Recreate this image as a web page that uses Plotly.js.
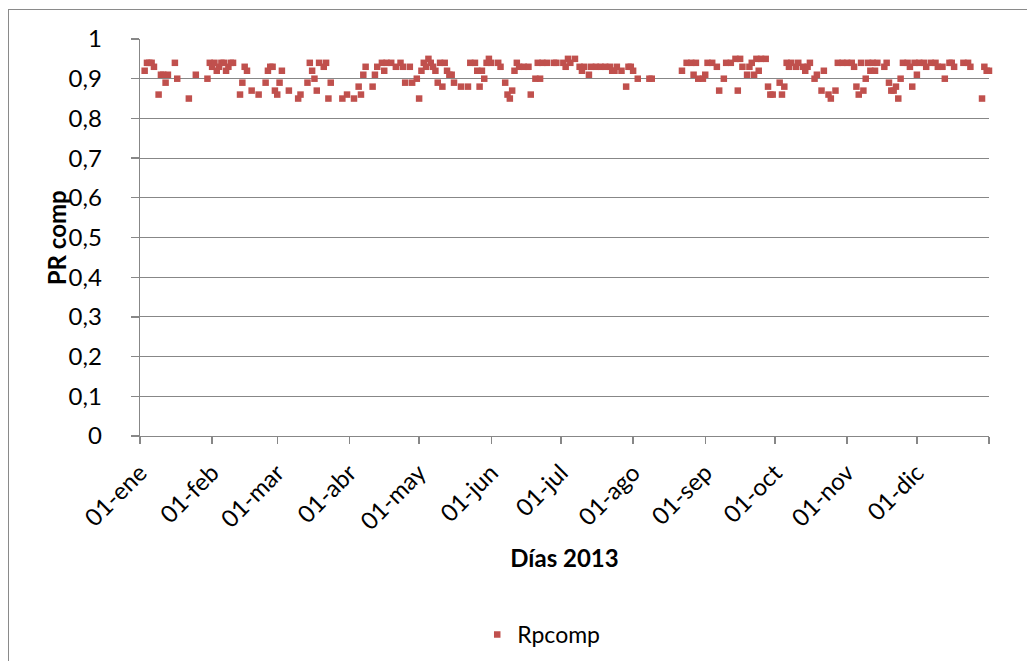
<!DOCTYPE html>
<html><head><meta charset="utf-8">
<script src="https://cdn.plot.ly/plotly-3.0.1.min.js"></script>
<style>
html,body{margin:0;padding:0;background:#fff;}
#wrap{position:relative;width:1027px;height:661px;overflow:hidden;}
#chart{position:absolute;left:0;top:0;width:1027px;height:661px;}
#frame{position:absolute;left:8px;top:9px;width:1060px;height:700px;border:1px solid #8a8a8a;pointer-events:none;}
</style></head>
<body><div id="wrap"><div id="chart"></div><div id="frame"></div></div>
<script>
// día del año (0 = 01-ene-2013)
const dias = [2,3,4,5,6,8,9,10,11,12,15,16,21,24,29,30,31,32,33,34,35,36,37,38,39,40,43,44,45,46,48,51,54,55,56,57,58,59,60,61,64,68,69,72,73,74,75,76,77,79,80,81,82,87,89,92,94,95,96,97,100,101,102,104,105,106,108,110,112,113,114,116,117,119,120,121,122,123,124,125,126,127,128,129,130,131,132,133,134,135,138,141,142,144,145,146,147,148,149,150,151,154,155,157,158,159,160,161,162,163,165,167,168,170,171,172,173,175,178,179,182,183,184,185,187,189,190,191,193,194,196,198,200,202,203,204,205,207,209,210,211,212,214,219,220,233,235,237,238,239,240,242,243,244,246,248,249,251,252,254,256,257,258,259,261,262,263,264,265,266,267,269,270,271,272,275,276,277,278,279,280,282,283,285,286,287,288,290,291,293,294,296,297,299,300,302,304,306,307,308,309,310,311,312,313,314,315,316,317,320,321,322,323,324,325,326,327,328,330,331,332,333,334,335,337,338,340,342,343,345,346,348,349,350,354,356,357,362,363,364,365];
const rpcomp = [0.92,0.94,0.94,0.94,0.93,0.86,0.91,0.91,0.89,0.91,0.94,0.90,0.85,0.91,0.90,0.94,0.93,0.94,0.92,0.93,0.94,0.94,0.92,0.93,0.94,0.94,0.86,0.89,0.93,0.92,0.87,0.86,0.89,0.92,0.93,0.93,0.87,0.86,0.89,0.92,0.87,0.85,0.86,0.89,0.94,0.92,0.90,0.87,0.94,0.93,0.94,0.85,0.89,0.85,0.86,0.85,0.88,0.86,0.91,0.93,0.88,0.91,0.93,0.94,0.92,0.94,0.94,0.93,0.94,0.93,0.89,0.93,0.89,0.90,0.85,0.92,0.94,0.93,0.95,0.94,0.93,0.92,0.89,0.94,0.88,0.94,0.92,0.91,0.91,0.89,0.88,0.88,0.94,0.94,0.92,0.88,0.92,0.90,0.94,0.95,0.94,0.94,0.93,0.89,0.86,0.85,0.87,0.92,0.94,0.93,0.93,0.93,0.86,0.90,0.94,0.90,0.94,0.94,0.94,0.94,0.94,0.93,0.95,0.94,0.95,0.93,0.92,0.93,0.91,0.93,0.93,0.93,0.93,0.93,0.92,0.92,0.93,0.92,0.88,0.93,0.93,0.92,0.90,0.90,0.90,0.92,0.94,0.94,0.91,0.94,0.90,0.90,0.91,0.94,0.94,0.93,0.87,0.90,0.94,0.94,0.95,0.87,0.95,0.93,0.91,0.93,0.94,0.91,0.95,0.92,0.95,0.95,0.88,0.86,0.86,0.89,0.86,0.88,0.94,0.93,0.94,0.93,0.94,0.93,0.92,0.93,0.94,0.90,0.91,0.87,0.92,0.86,0.85,0.87,0.94,0.94,0.94,0.94,0.93,0.88,0.86,0.94,0.87,0.90,0.94,0.92,0.94,0.92,0.94,0.93,0.94,0.89,0.87,0.87,0.88,0.85,0.90,0.94,0.94,0.93,0.88,0.94,0.91,0.94,0.94,0.93,0.94,0.94,0.93,0.93,0.90,0.94,0.94,0.93,0.94,0.94,0.93,0.85,0.93,0.92,0.92];
const mesesDia = [0,31,59,90,120,151,181,212,243,273,304,334,365];
const mesesTexto = ["01-ene","01-feb","01-mar","01-abr","01-may","01-jun","01-jul","01-ago","01-sep","01-oct","01-nov","01-dic",""];
const serieNombre = "Rpcomp";

const grey = '#878787';
const fontFam = 'Lato, "Open Sans", sans-serif';

const trace = {
  x: dias, y: rpcomp, type: 'scatter', mode: 'markers', name: serieNombre,
  marker: {symbol: 'square', size: 6.5, color: '#C0504D'},
  cliponaxis: false, showlegend: true
};

const layout = {
  width: 1027, height: 661,
  margin: {l: 140, r: 38, t: 39, b: 225},
  paper_bgcolor: '#fff', plot_bgcolor: '#fff',
  separators: ',.',
  font: {family: fontFam, size: 24, color: '#000'},
  showlegend: true,
  legend: {orientation: 'h', xref: 'container', yref: 'container', x: 0.527, y: 0.04,
           xanchor: 'center', yanchor: 'middle', font: {size: 23, family: fontFam}},
  xaxis: {
    range: [0, 365], tickmode: 'array', tickvals: mesesDia, ticktext: mesesTexto,
    tickangle: -45, ticks: 'outside', ticklen: 7, tickcolor: grey, tickwidth: 1.3,
    showline: true, linecolor: grey, linewidth: 1.3, showgrid: false, zeroline: false,
    ticklabelstandoff: 5,
    tickfont: {family: fontFam, size: 24, color: '#000'},
    title: {text: 'Días 2013', font: {family: fontFam, size: 24, weight: 'bold', color: '#000'}, standoff: 16}
  },
  yaxis: {
    range: [0, 1], tick0: 0, dtick: 0.1, ticks: 'outside', ticklen: 8, tickcolor: grey, tickwidth: 1.3,
    showline: true, linecolor: grey, linewidth: 1.3, showgrid: true, gridcolor: grey, gridwidth: 1,
    zeroline: false, ticklabelstandoff: 24,
    tickfont: {family: fontFam, size: 24, color: '#000'}
  },
  annotations: [{
    text: '<b>PR comp</b>', textangle: -90, showarrow: false,
    xref: 'paper', yref: 'paper', x: -0.098, y: 0.5, xanchor: 'center', yanchor: 'middle',
    font: {family: fontFam, size: 24, color: '#000'}
  }]
};

Plotly.newPlot('chart', [trace], layout, {displayModeBar: false, staticPlot: true});
</script>
</body></html>
